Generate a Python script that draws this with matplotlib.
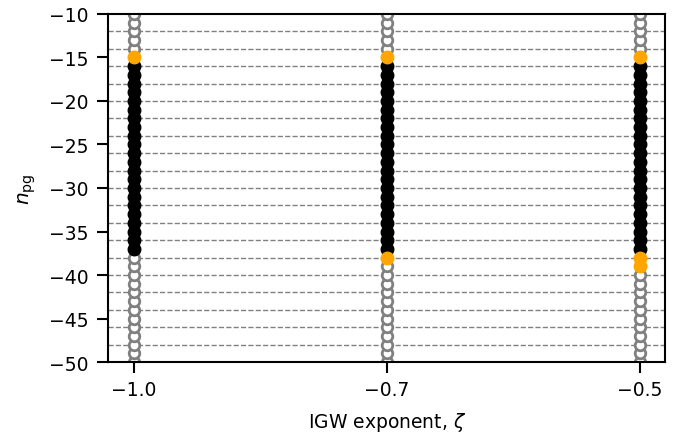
import numpy as np
import matplotlib

matplotlib.use("Agg")
import matplotlib.pyplot as plt

# IGW exponent categories
zeta_labels = ["\u22121.0", "\u22120.7", "\u22120.5"]

# radial order range scanned
n_pg_all = list(range(-50, -9))

# per zeta: modes with status "ok" (black) and "marginal" (orange)
ok_modes = [
    list(range(-37, -15)),
    list(range(-37, -15)),
    list(range(-37, -15)),
]
marginal_modes = [
    [-15],
    [-15, -38],
    [-15, -38, -39],
]

# dashed reference levels
ref_levels = list(range(-48, -11, 2))


def main() -> None:
    plt.rcParams["font.size"] = 13.5
    fig = plt.figure(figsize=(6.81, 4.39), dpi=100)
    ax = fig.add_axes([0.159, 0.173, 0.818, 0.793])

    for y in ref_levels:
        ax.axhline(y, color="gray", linestyle="--", linewidth=1.0, zorder=1)

    for i in range(len(zeta_labels)):
        done = set(ok_modes[i]) | set(marginal_modes[i])
        rest = [n for n in n_pg_all if n not in done]
        ax.plot([i] * len(rest), rest, "o", markersize=7.6, markerfacecolor="white",
                markeredgecolor="gray", markeredgewidth=2.0, linestyle="none", zorder=2)
        ax.plot([i] * len(ok_modes[i]), ok_modes[i], "o", markersize=9.0, color="black",
                linestyle="none", zorder=3)
        ax.plot([i] * len(marginal_modes[i]), marginal_modes[i], "o", markersize=9.0,
                color="orange", linestyle="none", zorder=3)

    ax.set_xticks(range(len(zeta_labels)))
    ax.set_xticklabels(zeta_labels)
    ax.set_xlim(-0.1, 2.1)
    ax.set_ylim(-50, -10)
    ax.set_yticks(range(-50, -9, 5))
    ax.tick_params(length=8, width=1.5)
    ax.tick_params(axis="y", pad=6)
    ax.tick_params(axis="x", pad=5)
    for s in ax.spines.values():
        s.set_linewidth(1.5)
    ax.set_xlabel(r"IGW exponent, $\zeta$", labelpad=8)
    ax.set_ylabel(r"$n_{\rm pg}$", fontsize=14.5, labelpad=8)

    fig.savefig("out.png", dpi=100)


if __name__ == "__main__":
    main()
